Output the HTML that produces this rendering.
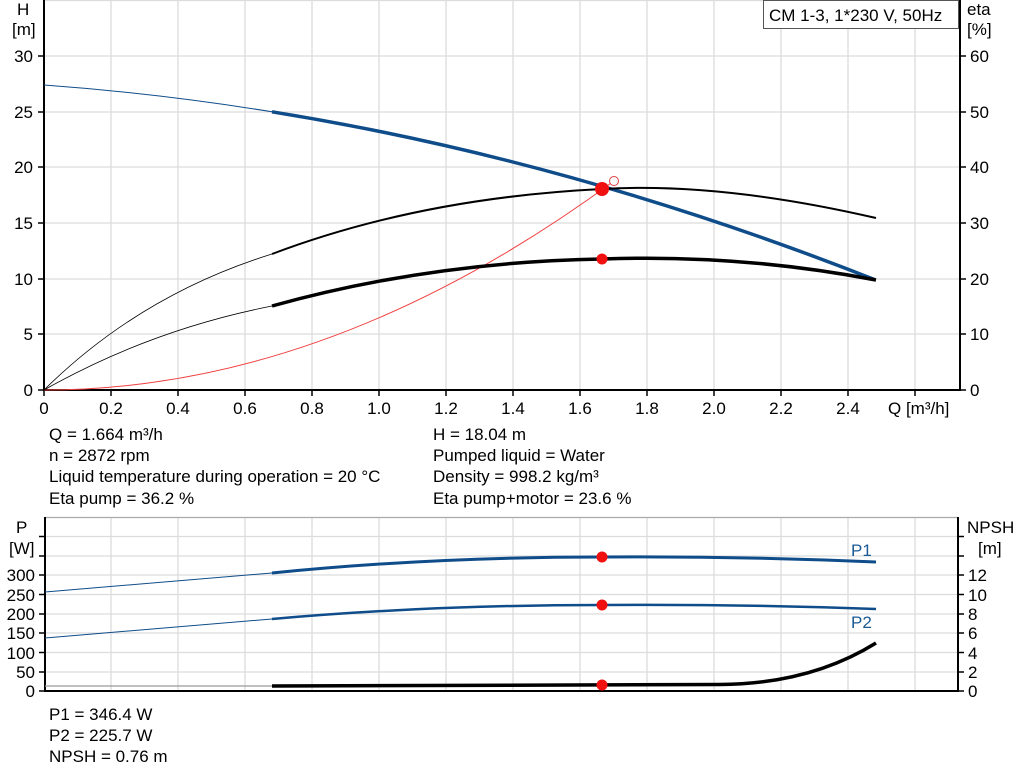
<!DOCTYPE html>
<html><head><meta charset="utf-8"><style>
body{margin:0;background:#fff;}
svg{display:block;font-family:"Liberation Sans",Arial,sans-serif;}
</style></head><body>
<svg width="1024" height="781" viewBox="0 0 1024 781" xmlns="http://www.w3.org/2000/svg">
<g stroke="#dcdcdc" stroke-width="1.3">
<line x1="111" y1="0" x2="111" y2="390"/><line x1="178" y1="0" x2="178" y2="390"/><line x1="245" y1="0" x2="245" y2="390"/><line x1="312" y1="0" x2="312" y2="390"/><line x1="379" y1="0" x2="379" y2="390"/><line x1="446" y1="0" x2="446" y2="390"/><line x1="513" y1="0" x2="513" y2="390"/><line x1="580" y1="0" x2="580" y2="390"/><line x1="647" y1="0" x2="647" y2="390"/><line x1="714" y1="0" x2="714" y2="390"/><line x1="781" y1="0" x2="781" y2="390"/><line x1="848" y1="0" x2="848" y2="390"/><line x1="915" y1="0" x2="915" y2="390"/>
<line x1="44" y1="56" x2="960" y2="56"/><line x1="44" y1="112" x2="960" y2="112"/><line x1="44" y1="167" x2="960" y2="167"/><line x1="44" y1="223" x2="960" y2="223"/><line x1="44" y1="279" x2="960" y2="279"/><line x1="44" y1="334" x2="960" y2="334"/>
<line x1="44" y1="0.5" x2="960" y2="0.5"/>
</g>
<g stroke="#000" stroke-width="2">
<line x1="44" y1="0" x2="44" y2="391"/><line x1="960" y1="0" x2="960" y2="391"/><line x1="43" y1="390" x2="961" y2="390"/>
</g>
<g stroke="#000" stroke-width="1.5">
<line x1="38" y1="56" x2="44" y2="56"/><line x1="38" y1="112" x2="44" y2="112"/><line x1="38" y1="167" x2="44" y2="167"/><line x1="38" y1="223" x2="44" y2="223"/><line x1="38" y1="279" x2="44" y2="279"/><line x1="38" y1="334" x2="44" y2="334"/><line x1="38" y1="390" x2="44" y2="390"/>
<line x1="960" y1="56" x2="966" y2="56"/><line x1="960" y1="112" x2="966" y2="112"/><line x1="960" y1="167" x2="966" y2="167"/><line x1="960" y1="223" x2="966" y2="223"/><line x1="960" y1="279" x2="966" y2="279"/><line x1="960" y1="334" x2="966" y2="334"/><line x1="960" y1="390" x2="966" y2="390"/>
<line x1="44" y1="390" x2="44" y2="396"/><line x1="111" y1="390" x2="111" y2="396"/><line x1="178" y1="390" x2="178" y2="396"/><line x1="245" y1="390" x2="245" y2="396"/><line x1="312" y1="390" x2="312" y2="396"/><line x1="379" y1="390" x2="379" y2="396"/><line x1="446" y1="390" x2="446" y2="396"/><line x1="513" y1="390" x2="513" y2="396"/><line x1="580" y1="390" x2="580" y2="396"/><line x1="647" y1="390" x2="647" y2="396"/><line x1="714" y1="390" x2="714" y2="396"/><line x1="781" y1="390" x2="781" y2="396"/><line x1="848" y1="390" x2="848" y2="396"/><line x1="915" y1="390" x2="915" y2="396"/>
</g>
<g font-size="17" fill="#000" text-anchor="end">
<text x="33" y="62">30</text><text x="33" y="118">25</text><text x="33" y="173">20</text><text x="33" y="229">15</text><text x="33" y="285">10</text><text x="33" y="340">5</text><text x="33" y="396">0</text>
</g>
<g font-size="17" fill="#000">
<text x="970" y="62">60</text><text x="970" y="118">50</text><text x="970" y="173">40</text><text x="970" y="229">30</text><text x="970" y="285">20</text><text x="970" y="340">10</text><text x="970" y="396">0</text>
<text x="17" y="15">H</text><text x="12" y="35">[m]</text>
<text x="967" y="15">eta</text><text x="967" y="35">[%]</text>
</g>
<g font-size="17" fill="#000" text-anchor="middle">
<text x="44" y="414">0</text><text x="111" y="414">0.2</text><text x="178" y="414">0.4</text><text x="245" y="414">0.6</text><text x="312" y="414">0.8</text><text x="379" y="414">1.0</text><text x="446" y="414">1.2</text><text x="513" y="414">1.4</text><text x="580" y="414">1.6</text><text x="647" y="414">1.8</text><text x="714" y="414">2.0</text><text x="781" y="414">2.2</text><text x="848" y="414">2.4</text>
</g>
<text x="888" y="414" font-size="17">Q [m³/h]</text>
<rect x="763.5" y="0.5" width="195" height="28" fill="#fff" stroke="#555"/>
<text x="769" y="21" font-size="17">CM 1-3, 1*230 V, 50Hz</text>
<path d="M44,390 Q329,390 614,181" fill="none" stroke="#f04040" stroke-width="1"/>
<circle cx="614" cy="181" r="4.5" fill="#fff" stroke="#e04040" stroke-width="1"/>
<path d="M44,85 Q158,93.3 272,111.8" fill="none" stroke="#0f4c8a" stroke-width="1"/>
<path d="M272,111.8 Q573,160.4 875,279.8" fill="none" stroke="#0f4c8a" stroke-width="3.5"/>
<path d="M44,390 Q140,295 272,254" fill="none" stroke="#000" stroke-width="0.8"/>
<path d="M272,254 Q420,198 602,189 Q720,182 876,218" fill="none" stroke="#000" stroke-width="2"/>
<path d="M44,390 Q150,330 272,306" fill="none" stroke="#000" stroke-width="0.8"/>
<path d="M272,306 Q430,262 602,259 Q740,254 876,280" fill="none" stroke="#000" stroke-width="3.5"/>
<circle cx="602" cy="189" r="7" fill="#f01010"/>
<circle cx="602" cy="259" r="5.5" fill="#f01010"/>
<g font-size="17" fill="#000">
<text x="49" y="440">Q = 1.664 m³/h</text><text x="49" y="461">n = 2872 rpm</text><text x="49" y="482">Liquid temperature during operation = 20 °C</text><text x="49" y="504">Eta pump = 36.2 %</text>
<text x="433" y="440">H = 18.04 m</text><text x="433" y="461">Pumped liquid = Water</text><text x="433" y="482">Density = 998.2 kg/m³</text><text x="433" y="504">Eta pump+motor = 23.6 %</text>
<text x="49" y="720">P1 = 346.4 W</text><text x="49" y="741">P2 = 225.7 W</text><text x="49" y="762">NPSH = 0.76 m</text>
</g>
<g stroke="#dcdcdc" stroke-width="1.3">
<line x1="111" y1="517" x2="111" y2="691"/><line x1="178" y1="517" x2="178" y2="691"/><line x1="245" y1="517" x2="245" y2="691"/><line x1="312" y1="517" x2="312" y2="691"/><line x1="379" y1="517" x2="379" y2="691"/><line x1="446" y1="517" x2="446" y2="691"/><line x1="513" y1="517" x2="513" y2="691"/><line x1="580" y1="517" x2="580" y2="691"/><line x1="647" y1="517" x2="647" y2="691"/><line x1="714" y1="517" x2="714" y2="691"/><line x1="781" y1="517" x2="781" y2="691"/><line x1="848" y1="517" x2="848" y2="691"/><line x1="915" y1="517" x2="915" y2="691"/>
<line x1="45" y1="536.5" x2="958" y2="536.5"/><line x1="45" y1="556" x2="958" y2="556"/><line x1="45" y1="575" x2="958" y2="575"/><line x1="45" y1="594.5" x2="958" y2="594.5"/><line x1="45" y1="614" x2="958" y2="614"/><line x1="45" y1="633" x2="958" y2="633"/><line x1="45" y1="652.5" x2="958" y2="652.5"/><line x1="45" y1="672" x2="958" y2="672"/>
</g>
<line x1="45" y1="517.5" x2="958" y2="517.5" stroke="#aaa" stroke-width="1.3"/>
<g stroke="#000" stroke-width="2">
<line x1="45" y1="517" x2="45" y2="692"/><line x1="958" y1="517" x2="958" y2="692"/><line x1="44" y1="691" x2="959" y2="691"/>
</g>
<g stroke="#000" stroke-width="1.5">
<line x1="39" y1="536.5" x2="45" y2="536.5"/><line x1="39" y1="556" x2="45" y2="556"/><line x1="39" y1="575" x2="45" y2="575"/><line x1="39" y1="594.5" x2="45" y2="594.5"/><line x1="39" y1="614" x2="45" y2="614"/><line x1="39" y1="633" x2="45" y2="633"/><line x1="39" y1="652.5" x2="45" y2="652.5"/><line x1="39" y1="672" x2="45" y2="672"/><line x1="39" y1="691" x2="45" y2="691"/>
<line x1="958" y1="536.5" x2="964" y2="536.5"/><line x1="958" y1="556" x2="964" y2="556"/><line x1="958" y1="575" x2="964" y2="575"/><line x1="958" y1="594.5" x2="964" y2="594.5"/><line x1="958" y1="614" x2="964" y2="614"/><line x1="958" y1="633" x2="964" y2="633"/><line x1="958" y1="652.5" x2="964" y2="652.5"/><line x1="958" y1="672" x2="964" y2="672"/><line x1="958" y1="691" x2="964" y2="691"/>
</g>
<g font-size="17" fill="#000" text-anchor="end">
<text x="35" y="581">300</text><text x="35" y="601">250</text><text x="35" y="620">200</text><text x="35" y="639">150</text><text x="35" y="659">100</text><text x="35" y="678">50</text><text x="35" y="697">0</text>
</g>
<g font-size="17" fill="#000">
<text x="968" y="581">12</text><text x="968" y="601">10</text><text x="968" y="620">8</text><text x="968" y="639">6</text><text x="968" y="659">4</text><text x="968" y="678">2</text><text x="968" y="697">0</text>
<text x="16" y="533">P</text><text x="9" y="554">[W]</text>
<text x="967" y="533">NPSH</text><text x="978" y="554">[m]</text>
</g>
<text x="851" y="556" font-size="17" fill="#1a5a96">P1</text>
<text x="851" y="628" font-size="17" fill="#1a5a96">P2</text>
<path d="M45,592 L272,573" fill="none" stroke="#0f4c8a" stroke-width="1"/>
<path d="M272,573 Q430,557 602,557 Q740,556 876,562" fill="none" stroke="#0f4c8a" stroke-width="3"/>
<path d="M45,638 L272,619" fill="none" stroke="#0f4c8a" stroke-width="1"/>
<path d="M272,619 Q430,605 602,605 Q740,604 876,609" fill="none" stroke="#0f4c8a" stroke-width="2.5"/>
<path d="M45,686 L272,686" fill="none" stroke="#999" stroke-width="1.2"/>
<path d="M272,686 L720,684.5 Q810,684 876,643" fill="none" stroke="#000" stroke-width="3.5"/>
<circle cx="602" cy="557" r="5.5" fill="#f01010"/>
<circle cx="602" cy="605" r="5.5" fill="#f01010"/>
<circle cx="602" cy="685" r="5.5" fill="#f01010"/>
</svg>
</body></html>
